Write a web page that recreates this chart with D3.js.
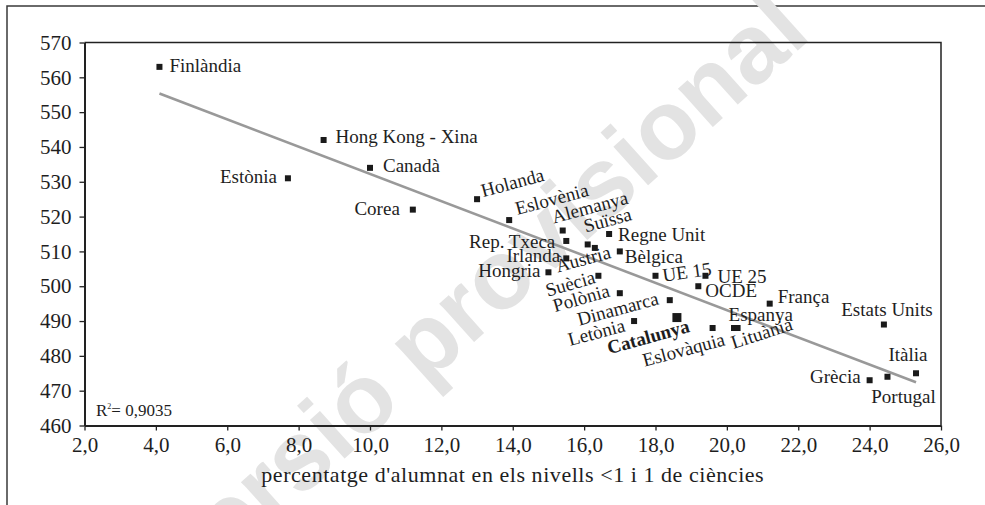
<!DOCTYPE html>
<html>
<head>
<meta charset="utf-8">
<script src="https://cdn.jsdelivr.net/npm/d3@7"></script>
<style>
  html, body { margin: 0; padding: 0; background: #fff; }
  svg { display: block; }
  text { font-family: "Liberation Serif", "DejaVu Serif", serif; fill: #1e1e1e; }
</style>
</head>
<body>
<svg id="chart" width="985" height="505"></svg>
<script>
// ---- data ----
const countries = ["Finlàndia","Hong Kong - Xina","Canadà","Estònia","Corea","Holanda","Eslovènia","Alemanya",
  "Rep. Txeca","Suïssa","Regne Unit","Àustria","Bèlgica","Irlanda","Hongria","Suècia","UE 15","UE 25","OCDE",
  "França","Polònia","Dinamarca","Catalunya","Letònia","Espanya","Eslovàquia","Lituània","Estats Units",
  "Itàlia","Grècia","Portugal"];
const pctLowLevels = [4.1, 8.7, 10.0, 7.7, 11.2, 13.0, 13.9, 15.4, 15.5, 16.1, 16.7, 16.3, 17.0, 15.5, 15.0, 16.4,
  18.0, 19.4, 19.2, 21.2, 17.0, 18.4, 18.6, 17.4, 19.6, 20.2, 20.3, 24.4, 25.3, 24.0, 24.5];
const scienceScores = [563, 542, 534, 531, 522, 525, 519, 516, 513, 512, 515, 511, 510, 508, 504, 503,
  503, 503, 500, 495, 498, 496, 491, 490, 488, 488, 488, 489, 475, 473, 474];
const highlighted = ["Catalunya"];
const xTicks = [2, 4, 6, 8, 10, 12, 14, 16, 18, 20, 22, 24, 26];
const yTicks = [460, 470, 480, 490, 500, 510, 520, 530, 540, 550, 560, 570];
const trendSlope = -3.913;
const trendIntercept = 571.4;
const rSquared = "0,9035";
const xTitle = "percentatge d'alumnat en els nivells <1 i 1 de ciències";
const watermark = "Versió provisional";

// ---- label layout (offset from marker, anchor, rotation) ----
const labelLayout = [
  [10, 5, "start", 0], [12, 3, "start", 0], [13, 4, "start", 0], [-11, 5, "end", 0], [-13, 5, "end", 0],
  [6, -2, "start", -15], [8, -5, "start", -15], [-9, -7, "start", -15], [-11, 7, "end", 0], [-2, -12, "start", -15],
  [9, 7, "start", 0], [17, 10, "end", -15], [5, 12, "start", 0], [-6, 4, "end", 0], [-8, 5, "end", 0],
  [-2, 7, "end", -16], [8, 6, "start", -8], [12, 7, "start", 0], [7, 11, "start", 0], [8, -1, "start", 0],
  [-9, 3, "end", -16], [-10, 4, "end", -15], [-27, 25.5, "middle", -15.5], [-8, 10, "end", -15], [16, -7, "start", 0],
  [-8, 17, "end", -15], [-4, 21, "start", -18], [3, -9, "middle", 0], [-8, -12, "middle", 0], [-9, 3, "end", 0],
  [16, 26, "middle", 0]
];

const svg = d3.select("#chart");
const plot = {left: 84.5, right: 941, top: 42.5, bottom: 425.5};

const x = d3.scaleLinear().domain([2, 26]).range([plot.left, plot.right]);
const y = d3.scaleLinear().domain([460, 570]).range([plot.bottom, plot.top]);

// outer frame (top and left edges)
svg.append("path")
  .attr("d", `M7,505 L7,6 L985,6`)
  .attr("fill", "none").attr("stroke", "#3a3a3a").attr("stroke-width", 1.5);

// watermark
svg.append("text")
  .attr("transform", "translate(482,300) rotate(-42)")
  .attr("text-anchor", "middle")
  .attr("dominant-baseline", "middle")
  .style("font-family", "'Liberation Sans', Arial, sans-serif")
  .style("font-weight", "bold")
  .style("font-size", "98px")
  .style("fill", "#e3e3e3")
  .text(watermark);

// plot box (top and right)
svg.append("path")
  .attr("d", `M${plot.left},${plot.top} L${plot.right},${plot.top} L${plot.right},${plot.bottom}`)
  .attr("fill", "none").attr("stroke", "#222").attr("stroke-width", 1.5);

const fmt = d => d.toFixed(1).replace(".", ",");

const xAxis = svg.append("g")
  .attr("transform", `translate(0,${plot.bottom})`)
  .call(d3.axisBottom(x).tickValues(xTicks).tickFormat(fmt).tickSize(5).tickSizeOuter(0).tickPadding(6));
const yAxis = svg.append("g")
  .attr("transform", `translate(${plot.left},0)`)
  .call(d3.axisLeft(y).tickValues(yTicks).tickFormat(d3.format("d")).tickSize(5).tickSizeOuter(0).tickPadding(8));

[xAxis, yAxis].forEach(g => {
  g.select(".domain").attr("stroke", "#222").attr("stroke-width", 2);
  g.selectAll(".tick line").attr("stroke", "#222").attr("stroke-width", 1.3);
  g.selectAll(".tick text")
    .style("font-family", "'Liberation Serif', serif")
    .style("font-size", "21px")
    .attr("fill", "#1e1e1e");
});
xAxis.selectAll(".tick text").attr("dy", "0.75em");

// axis title
svg.append("text")
  .attr("x", (plot.left + plot.right) / 2)
  .attr("y", 482)
  .attr("text-anchor", "middle")
  .style("font-size", "22px")
  .style("letter-spacing", "0.55px")
  .text(xTitle);

// trend line over the data range
const xExt = d3.extent(pctLowLevels);
svg.append("line")
  .attr("x1", x(xExt[0])).attr("y1", y(trendIntercept + trendSlope * xExt[0]))
  .attr("x2", x(xExt[1])).attr("y2", y(trendIntercept + trendSlope * xExt[1]))
  .attr("stroke", "#999").attr("stroke-width", 2.6);

// markers
const data = countries.map((c, i) => ({name: c, xv: pctLowLevels[i], yv: scienceScores[i], lay: labelLayout[i],
  hi: highlighted.includes(c)}));

svg.append("g").selectAll("rect").data(data).join("rect")
  .attr("x", d => x(d.xv) - (d.hi ? 4.5 : 3))
  .attr("y", d => y(d.yv) - (d.hi ? 4.5 : 3))
  .attr("width", d => d.hi ? 9 : 6)
  .attr("height", d => d.hi ? 9 : 6)
  .attr("fill", "#1a1a1a");

// labels
svg.append("g").selectAll("text").data(data).join("text")
  .attr("transform", d => `translate(${x(d.xv) + d.lay[0]},${y(d.yv) + d.lay[1]}) rotate(${d.lay[3]})`)
  .attr("text-anchor", d => d.lay[2])
  .style("font-size", "19px")
  .style("font-weight", d => d.hi ? "bold" : "normal")
  .text(d => d.name);

// R squared
const r2 = svg.append("text").attr("x", 96).attr("y", 415.5).style("font-size", "17px");
r2.append("tspan").text("R");
r2.append("tspan").attr("dy", -7).style("font-size", "8px").text("2");
r2.append("tspan").attr("dy", 7).text("= " + rSquared);
</script>
</body>
</html>
